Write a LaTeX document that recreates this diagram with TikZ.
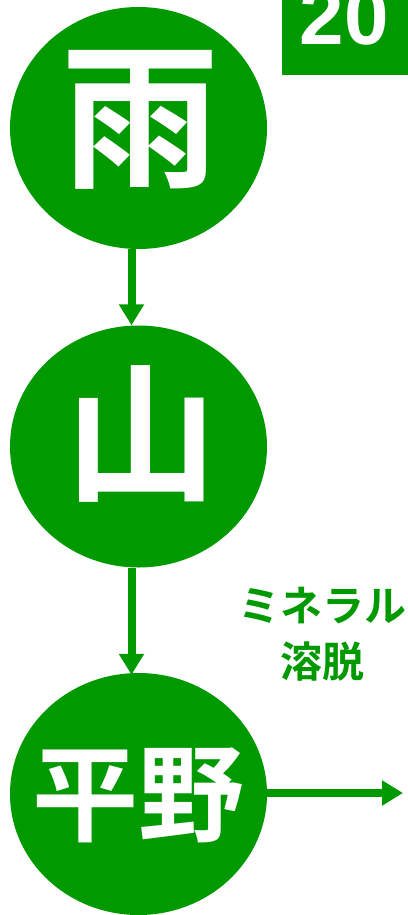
\documentclass[tikz,border=0pt]{standalone}
\usepackage{fontspec}
\newfontfamily\cjk{Noto Sans CJK JP}[BoldFont={Noto Sans CJK JP Bold}]
\setmainfont{Liberation Sans}
\usetikzlibrary{shapes.geometric,arrows.meta}
\definecolor{grn}{RGB}{0,153,0}
\tikzset{
  bubble/.style={ellipse, fill=grn, minimum width=257pt, minimum height=242pt, inner sep=0pt},
  bigtxt/.style={text=white, inner sep=0pt, font=\cjk\bfseries},
  flow/.style={draw=grn, line width=8pt, -{Triangle[width=24pt,length=21pt]}},
  note/.style={text=grn, inner sep=0pt, align=center, font=\cjk\bfseries\fontsize{42}{56}\selectfont},
}
\begin{document}
\begin{tikzpicture}[x=1pt,y=-1pt]
\useasboundingbox (0,0) rectangle (407,915);
% badge
\node[fill=grn, anchor=north west, minimum width=130pt, minimum height=75pt, inner sep=0pt] (badge) at (282,0) {};
\node[anchor=base west, inner sep=0pt, text=white, font=\bfseries\fontsize{80}{80}\selectfont] (year) at (299.5,45) {20};
% bubbles
\node[bubble] (rain) at (138.5,128) {};
\node[bubble] (mount) at (138.5,446.5) {};
\node[bubble] (plain) at (138.5,794) {};
\node[bigtxt, font=\cjk\bfseries\fontsize{158}{158}\selectfont] (t1) at (140,120) {雨};
\node[bigtxt, font=\cjk\bfseries\fontsize{152}{152}\selectfont] (t2) at (141,434) {山};
\node[bigtxt, font=\cjk\bfseries\fontsize{106}{106}\selectfont] (t3) at (138.5,795) {平野};
% label
\node[note] (lbl) at (322,634) {ミネラル\\溶脱};
% connectors
\coordinate (out) at (403,793);
\draw[flow] ([xshift=-7pt]rain.south) -- ([xshift=-7pt]mount.north);
\draw[flow] ([xshift=-7pt]mount.south) -- ([xshift=-7pt,yshift=-2pt]plain.north);
\draw[flow] (plain.east |- out) -- (out);
\end{tikzpicture}
\end{document}
